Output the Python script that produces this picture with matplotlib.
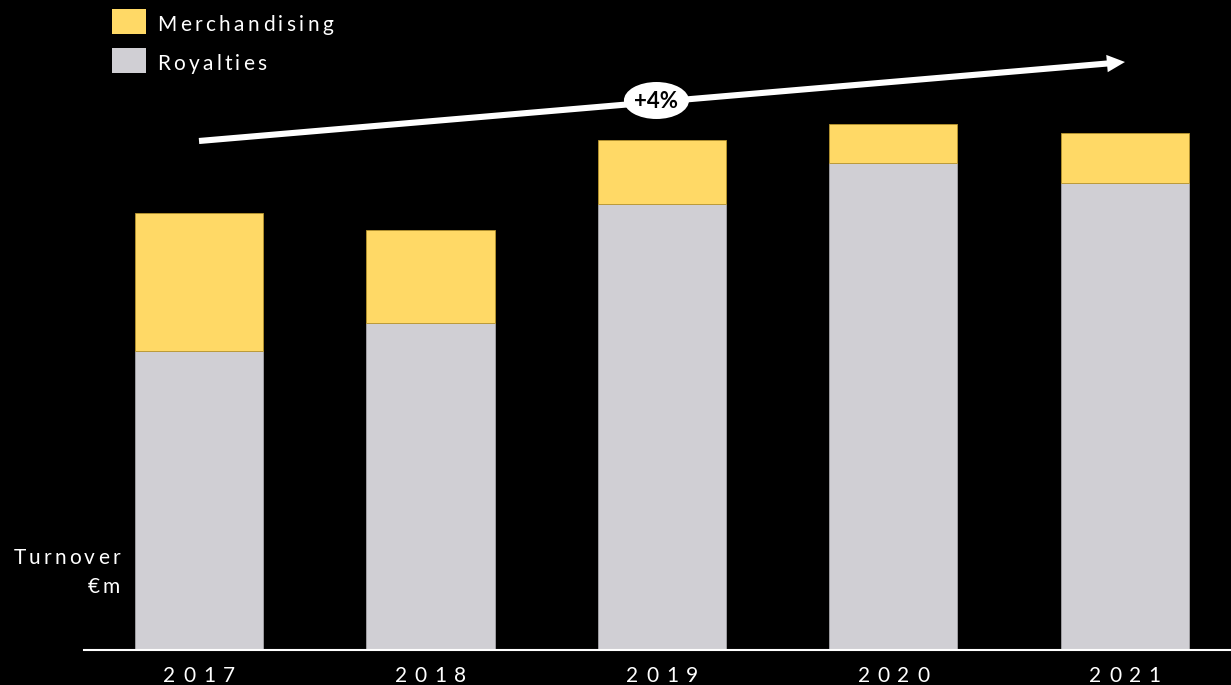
import matplotlib
matplotlib.use("Agg")
import matplotlib.pyplot as plt
from matplotlib.patches import Ellipse, Rectangle, FancyArrowPatch
from matplotlib.font_manager import FontProperties
from matplotlib.transforms import IdentityTransform

# Turnover split by revenue stream (€m)
years = ["2017", "2018", "2019", "2020", "2021"]
royalties = [29.9, 32.7, 44.6, 48.7, 46.7]
merchandising = [13.8, 9.3, 6.4, 3.9, 5.0]
growth_label = "+4%"

YELLOW = "#FFD966"
YELLOW_EDGE = "#B8952E"
GREY = "#D0CFD4"
GREY_EDGE = "#A7A6AA"
BG = "#000000"

W, H, DPI = 1231, 685, 100
fig = plt.figure(figsize=(W / DPI, H / DPI), dpi=DPI, facecolor=BG)
ax = fig.add_axes([84 / W, 35 / H, 1 - 84 / W, 650 / H], facecolor=BG)

x = list(range(len(years)))
bar_w = 0.553
ax.bar(x, royalties, width=bar_w, color=GREY, edgecolor=GREY_EDGE, linewidth=0.6, zorder=2)
ax.bar(x, merchandising, width=bar_w, bottom=royalties, color=YELLOW,
       edgecolor=YELLOW_EDGE, linewidth=0.6, zorder=2)

ax.set_xlim(-0.4968, 4.458)
ax.set_ylim(0, 65.0)
for side in ("top", "left", "right"):
    ax.spines[side].set_visible(False)
ax.spines["bottom"].set_color("white")
ax.spines["bottom"].set_linewidth(1.5)
ax.spines["bottom"].set_zorder(3)
ax.set_xticks([])
ax.set_yticks([])

# Growth trend arrow with CAGR bubble
arrow = FancyArrowPatch((0, 50.9), (4, 58.8),
                        arrowstyle="simple,head_length=13,head_width=12.5,tail_width=4.4",
                        mutation_scale=1, color="white", linewidth=0,
                        shrinkA=0, shrinkB=0, zorder=4, clip_on=False)
ax.add_patch(arrow)
ax.add_patch(Ellipse((1.976, 54.95), 0.281, 3.7, facecolor="white",
                     edgecolor="none", zorder=5, clip_on=False))
ax.text(1.976, 54.85, growth_label, ha="center", va="center", fontsize=16,
        fontweight="bold", color="black", family=["Lato", "DejaVu Sans"], zorder=6)

# Letter-spaced labels placed in pixel coordinates
renderer = fig.canvas.get_renderer()
ident = IdentityTransform()


def text_width(s, prop):
    if not s:
        return 0.0
    w, _, _ = renderer.get_text_width_height_descent(s, prop, ismath=False)
    return w


def tracked(s, xpos, baseline_from_top, size, tracking, ha="left", color="white"):
    prop = FontProperties(family=["Lato", "DejaVu Sans"], size=size)
    total = text_width(s, prop) + tracking * (len(s) - 1)
    if ha == "left":
        left = xpos
    elif ha == "right":
        left = xpos - total
    else:
        left = xpos - total / 2
    y = H - baseline_from_top
    for i, ch in enumerate(s):
        cx = left + text_width(s[:i], prop) + tracking * i
        fig.text(cx, y, ch, transform=ident, fontproperties=prop, color=color,
                 ha="left", va="baseline")


# Year labels under each bar
for xi, yr in zip(x, years):
    cx = ax.transData.transform((xi, 0))[0]
    tracked(yr, cx, 682, 15, 7.6, ha="center")

# Axis caption
tracked("Turnover", 120, 564, 15, 3.2, ha="right")
tracked("€m", 120, 593, 15, 3.2, ha="right")

# Legend
fig.add_artist(Rectangle((112, H - 34), 34, 25, transform=ident,
                         facecolor=YELLOW, edgecolor="none"))
fig.add_artist(Rectangle((112, H - 73), 34, 25, transform=ident,
                         facecolor=GREY, edgecolor="none"))
tracked("Merchandising", 157, 31, 15, 3.45)
tracked("Royalties", 157, 70, 15, 3.3)

fig.savefig("out.png", dpi=DPI, facecolor=BG)
